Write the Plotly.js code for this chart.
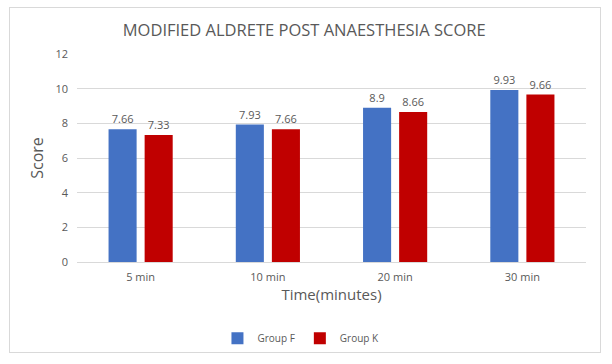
<!DOCTYPE html>
<html>
<head>
<meta charset="utf-8">
<script src="https://cdn.plot.ly/plotly-3.0.1.min.js"></script>
<style>
html,body{margin:0;padding:0;background:#fff;}
#wrap{position:relative;width:612px;height:364px;}
#chart{width:612px;height:364px;}
#frame{position:absolute;left:9px;top:7px;width:590px;height:344px;border:1px solid #d9d9d9;pointer-events:none;}
</style>
</head>
<body>
<div id="wrap"><div id="chart"></div><div id="frame"></div></div>
<script>
const categories = ["5 min", "10 min", "20 min", "30 min"];
const groupF = [7.66, 7.93, 8.9, 9.93];
const groupK = [7.33, 7.66, 8.66, 9.66];
const seriesNames = ["Group F", "Group K"];
const yTicks = [0, 2, 4, 6, 8, 10, 12];

const FONT = "Open Sans, Lato, sans-serif";
const GRAY = "#595959";

function trace(name, vals, color) {
  return {
    type: "bar", name: name, x: categories, y: vals,
    marker: {color: color},
    text: vals.map(v => String(v)), textposition: "outside",
    textfont: {family: FONT, size: 11, color: GRAY},
    cliponaxis: false
  };
}

const data = [
  trace(seriesNames[0], groupF, "#4472C4"),
  trace(seriesNames[1], groupK, "#C00000")
];

const layout = {
  width: 612, height: 364,
  margin: {l: 77, r: 26, t: 54, b: 101},
  paper_bgcolor: "#fff", plot_bgcolor: "#fff",
  font: {family: FONT, color: GRAY},
  title: {text: "MODIFIED ALDRETE POST ANAESTHESIA SCORE", font: {family: FONT, size: 16.5, color: GRAY}, x: 0.497, xanchor: "center", y: 0.917, yanchor: "middle"},
  barmode: "group", bargap: 0.433, bargroupgap: 0.222,
  xaxis: {
    title: {text: "Time(minutes)", font: {family: FONT, size: 15, color: GRAY}, standoff: 6},
    tickfont: {family: FONT, size: 11, color: GRAY}, ticklabelstandoff: 5,
    showline: true, linecolor: "#d9d9d9", linewidth: 1, ticks: "", showgrid: false
  },
  yaxis: {
    title: {text: "Score", font: {family: FONT, size: 16, color: GRAY}, standoff: 7},
    range: [0, 12], tickvals: yTicks, ticktext: yTicks.map(String),
    tickfont: {family: FONT, size: 11, color: GRAY}, ticklabelstandoff: 8,
    gridcolor: "#d9d9d9", zeroline: false, showline: false, ticks: ""
  },
  showlegend: true,
  legend: {orientation: "h", x: 0.44, xanchor: "center", y: -0.36, yanchor: "middle", font: {family: FONT, size: 10, color: GRAY}, itemwidth: 30, traceorder: "normal"}
};

Plotly.newPlot("chart", data, layout, {displayModeBar: false, staticPlot: true});
</script>
</body>
</html>
